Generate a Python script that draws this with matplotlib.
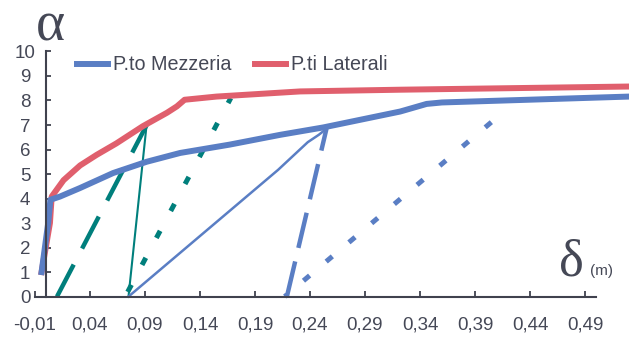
import matplotlib
matplotlib.use("Agg")
import matplotlib.pyplot as plt

plt.rcParams['font.family'] = ['Liberation Sans', 'DejaVu Sans']
plt.rcParams['lines.scale_dashes'] = False

# main curves (delta in m, alpha)
red_x = [-0.004, 0.0036, 0.0052, 0.016, 0.031, 0.046, 0.064, 0.088, 0.110, 0.119, 0.126, 0.155, 0.231, 0.322, 0.53]
red_y = [1.0, 3.0, 4.08, 4.75, 5.35, 5.78, 6.25, 6.95, 7.5, 7.76, 8.03, 8.16, 8.37, 8.44, 8.57]

blue_x = [-0.004, 0.002, 0.004, 0.0127, 0.031, 0.061, 0.0915, 0.122, 0.167, 0.213, 0.252, 0.322, 0.346, 0.36, 0.53]
blue_y = [1.0, 3.0, 3.95, 4.08, 4.43, 5.04, 5.5, 5.86, 6.2, 6.6, 6.9, 7.55, 7.86, 7.92, 8.16]

# unloading / reloading branches
teal_dash_x = [0.010, 0.0915]
teal_dash_y = [0.0, 7.0]
teal_solid_x = [0.075, 0.0915]
teal_solid_y = [0.0, 7.02]
teal_dot_x = [0.072, 0.168]
teal_dot_y = [0.0, 8.1]

blue_thin_x = [0.075, 0.211, 0.238, 0.248, 0.255]
blue_thin_y = [0.0, 5.17, 6.3, 6.6, 6.85]
blue_dash_x = [0.219, 0.255]
blue_dash_y = [0.0, 6.85]
blue_dot_x = [0.217, 0.405]
blue_dot_y = [0.0, 7.12]

x_ticks = [-0.01, 0.04, 0.09, 0.14, 0.19, 0.24, 0.29, 0.34, 0.39, 0.44, 0.49]
x_labels = ['-0,01', '0,04', '0,09', '0,14', '0,19', '0,24', '0,29', '0,34', '0,39', '0,44', '0,49']
y_ticks = list(range(0, 11))

RED = '#e05f6d'
BLUE = '#5a7ec4'
TEAL = '#007f7c'
TXT = '#454856'
AXC = '#40424e'

fig = plt.figure(figsize=(6.29, 3.38), dpi=100)
ax = fig.add_axes([0, 0, 1, 1])
ax.set_xlim(-0.0418, 0.530)
ax.set_ylim(-1.69, 12.1)

# branches
ax.plot(teal_dash_x, teal_dash_y, color=TEAL, lw=3.2, linestyle=(0, (26, 13)))
ax.plot(teal_solid_x, teal_solid_y, color=TEAL, lw=1.5)
ax.plot(teal_dot_x, teal_dot_y, color=TEAL, lw=3.6, linestyle=(18.2, (5.8, 16.2)))
ax.plot(blue_thin_x, blue_thin_y, color=BLUE, lw=1.8)
ax.plot(blue_dash_x, blue_dash_y, color=BLUE, lw=3.2, linestyle=(0, (26, 10)))
ax.plot(blue_dot_x, blue_dot_y, color=BLUE, lw=3.6, linestyle=(3.7, (5.8, 15.6)))

# main curves
l_red, = ax.plot(red_x, red_y, color=RED, lw=4.3, solid_joinstyle='round', label='P.ti Laterali')
l_blue, = ax.plot(blue_x, blue_y, color=BLUE, lw=4.3, solid_joinstyle='round', label='P.to Mezzeria')

for s in ['top', 'right']:
    ax.spines[s].set_visible(False)
ax.spines['left'].set_position(('data', 0))
ax.spines['left'].set_bounds(0, 10)
ax.spines['bottom'].set_position(('data', 0))
ax.spines['bottom'].set_bounds(-0.01, 0.50)
for s in ['left', 'bottom']:
    ax.spines[s].set_linewidth(1.5)
    ax.spines[s].set_color(AXC)

ax.set_xticks(x_ticks)
ax.set_xticklabels(x_labels)
ax.set_yticks(y_ticks)
ax.set_yticklabels([str(v) for v in y_ticks])
ax.tick_params(axis='x', direction='in', length=4, width=1.3, color=AXC,
               labelsize=13.5, labelcolor=TXT, pad=14)
ax.tick_params(axis='y', direction='in', length=3.5, width=1.3, color=AXC,
               labelsize=13.5, labelcolor=TXT, pad=15)
for lbl in ax.get_yticklabels():
    lbl.set_horizontalalignment('center')

ax.legend(handles=[l_blue, l_red], loc='upper left', bbox_to_anchor=(0.1225, 0.836),
          bbox_transform=fig.transFigure, ncol=2, frameon=False, fontsize=14.25,
          handlelength=1.57, handletextpad=0.24, columnspacing=1.2, borderpad=0,
          borderaxespad=0, labelcolor=TXT)

fig.text(0.0795, 0.923, 'α', ha='center', va='center', fontsize=40,
         family='Liberation Serif', color=TXT)
fig.text(0.909, 0.222, 'δ', ha='center', va='center', fontsize=38,
         family='Liberation Serif', color=TXT)
fig.text(0.956, 0.197, '(m)', ha='center', va='center', fontsize=11, color=TXT)

fig.savefig('out.png', dpi=100)
